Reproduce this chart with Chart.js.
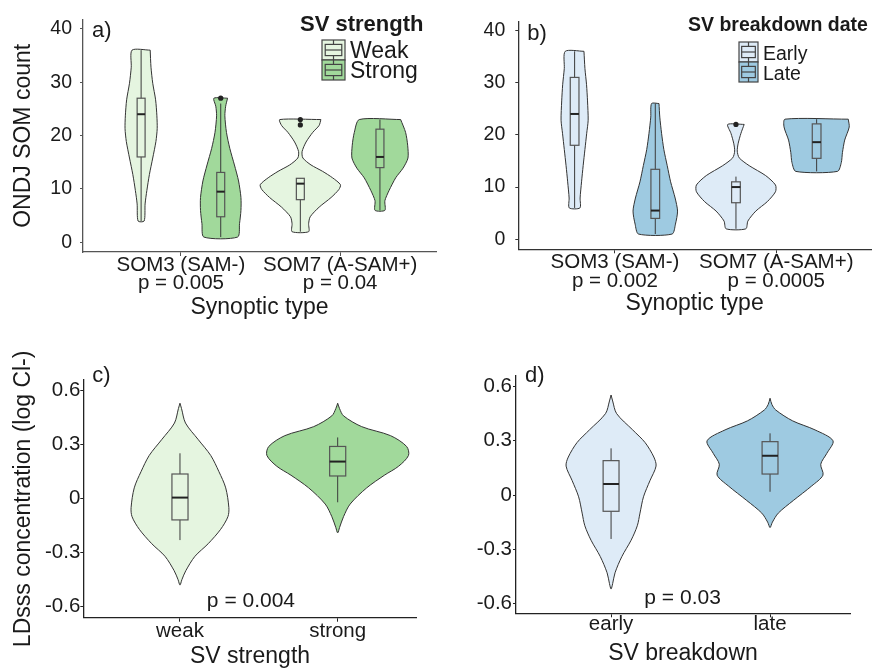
<!DOCTYPE html>
<html>
<head>
<meta charset="utf-8">
<script src="https://cdn.jsdelivr.net/npm/chart.js@4.4.1/dist/chart.umd.min.js"></script>
<style>
html, body { margin: 0; padding: 0; background: #fff; }
#wrap { position: relative; width: 875px; height: 668px; overflow: hidden; }
canvas { position: absolute; }
</style>
</head>
<body>
<div id="wrap">
  <canvas id="panelA" width="440" height="330" style="left:0;top:0"></canvas>
  <canvas id="panelB" width="435" height="330" style="left:440px;top:0"></canvas>
  <canvas id="panelC" width="440" height="338" style="left:0;top:330px"></canvas>
  <canvas id="panelD" width="435" height="338" style="left:440px;top:330px"></canvas>
</div>
<script>
// Violin + box plots of SOM counts (a, b) and LDsss concentration (c, d)

// ---- shared categories / ticks ----
const groupTicks = [1, 2];
const somNames = ['SOM3 (SAM-)', 'SOM7 (A-SAM+)'];
const pValuesA = ['p = 0.005', 'p = 0.04'];
const pValuesB = ['p = 0.002', 'p = 0.0005'];
const yTicksSom = [0, 10, 20, 30, 40];
const yTicksConc = [-0.6, -0.3, 0, 0.3, 0.6];
const yTickLabelsConc = ['-0.6', '-0.3', '0', '0.3', '0.6'];
const strengthNames = ['weak', 'strong'];
const breakdownNames = ['early', 'late'];

// violin positions on the x axis
const dodgedPos = [0.75, 1.25, 1.75, 2.25];
const singlePos = [1, 2];

// ---- panel a: SV strength ----
const aWeak3Y = [36, 32.8, 29.8, 26.7, 23.7, 21.3, 18.9, 15.8, 12.7, 9.7, 7.2, 4];
const aWeak3W = [0.057, 0.062, 0.073, 0.091, 0.099, 0.101, 0.093, 0.073, 0.052, 0.036, 0.025, 0.019];
const aStrong3Y = [27, 25.5, 23.7, 20.6, 17.6, 14.5, 11.5, 8.4, 6, 3.5, 1];
const aStrong3W = [0.043, 0.031, 0.026, 0.036, 0.057, 0.086, 0.112, 0.127, 0.127, 0.118, 0.106];
const aWeak7Y = [23, 21.9, 20.6, 18.8, 17, 15.8, 14.5, 13.3, 12.1, 10.8, 9.9, 8.4, 6.6, 4.8, 3.5, 2];
const aWeak7W = [0.129, 0.118, 0.078, 0.036, 0.011, 0.016, 0.067, 0.140, 0.202, 0.252, 0.242, 0.193, 0.118, 0.062, 0.052, 0.052];
const aStrong7Y = [23, 20.6, 18.2, 15.8, 13.9, 12.1, 9.7, 7.8, 6];
const aStrong7W = [0.130, 0.161, 0.174, 0.176, 0.145, 0.099, 0.057, 0.031, 0.031];
// box stats: lower whisker, q1, median, q3, upper whisker
const aBoxes = [[4, 16, 24, 27, 36], [1, 4.8, 9.5, 13.1, 26], [2, 8, 11, 12, 12], [6, 14, 16, 21.2, 23]];
const aOutliers = [{x: 1.25, y: 27}, {x: 1.75, y: 22}, {x: 1.75, y: 23}];

// ---- panel b: SV breakdown date ----
const bEarly3Y = [36, 32.7, 29.6, 26.5, 22.8, 20.3, 17.2, 14.1, 11, 7.9, 6];
const bEarly3W = [0.058, 0.064, 0.074, 0.080, 0.084, 0.075, 0.064, 0.053, 0.043, 0.034, 0.033];
const bLate3Y = [26, 23.4, 20.3, 17.2, 14.1, 11, 7.9, 5.4, 2.9, 1];
const bLate3W = [0.023, 0.028, 0.039, 0.053, 0.074, 0.095, 0.123, 0.138, 0.125, 0.104];
const bEarly7Y = [22, 20.3, 18.4, 16.9, 15.6, 14.1, 12.2, 10.4, 9.1, 7.2, 5.4, 3.5, 2];
const bEarly7W = [0.051, 0.031, 0.014, 0.008, 0.020, 0.082, 0.184, 0.245, 0.245, 0.194, 0.123, 0.074, 0.061];
const bLate7Y = [23, 21.5, 19, 16.6, 14.7, 13];
const bLate7W = [0.196, 0.202, 0.174, 0.160, 0.153, 0.129];
const bBoxes = [[6, 18, 24, 31, 36], [1, 4, 5.5, 13.4, 26], [2, 7, 10, 11, 12], [13, 15.5, 18.6, 22.1, 23]];
const bOutliers = [{x: 1.75, y: 22}];

// ---- panel c: LDsss vs SV strength ----
const cWeakY = [0.53, 0.50, 0.42, 0.33, 0.24, 0.15, 0.06, -0.05, -0.10, -0.17, -0.25, -0.32, -0.40, -0.45, -0.48];
const cWeakW = [0, 0.010, 0.035, 0.114, 0.195, 0.247, 0.290, 0.310, 0.304, 0.258, 0.179, 0.095, 0.037, 0.012, 0];
const cStrongY = [0.53, 0.50, 0.46, 0.40, 0.35, 0.29, 0.24, 0.18, 0.13, 0.06, -0.03, -0.10, -0.16, -0.19];
const cStrongW = [0, 0.012, 0.037, 0.152, 0.335, 0.437, 0.449, 0.386, 0.296, 0.184, 0.079, 0.037, 0.012, 0];
const cBoxes = [[-0.23, -0.118, 0.006, 0.137, 0.252], [-0.02, 0.126, 0.206, 0.29, 0.34]];

// ---- panel d: LDsss vs SV breakdown ----
const dEarlyY = [0.553, 0.52, 0.45, 0.36, 0.29, 0.21, 0.16, 0.08, -0.01, -0.10, -0.17, -0.25, -0.34, -0.43, -0.49, -0.52];
const dEarlyW = [0, 0.010, 0.035, 0.136, 0.214, 0.269, 0.283, 0.245, 0.204, 0.182, 0.165, 0.126, 0.068, 0.025, 0.010, 0];
const dLateY = [0.535, 0.50, 0.47, 0.41, 0.36, 0.30, 0.23, 0.17, 0.11, 0.05, -0.03, -0.10, -0.15, -0.18];
const dLateW = [0, 0.012, 0.036, 0.142, 0.283, 0.396, 0.357, 0.319, 0.333, 0.262, 0.147, 0.052, 0.015, 0];
const dBoxes = [[-0.243, -0.09, 0.061, 0.19, 0.258], [0.018, 0.116, 0.217, 0.295, 0.341]];

const pTextC = 'p = 0.004';
const pTextD = 'p = 0.03';
const pTextPos = {x: 1.45, y: -0.6};

// colours
const weakFill = '#e5f5e0';
const strongFill = '#a1d99b';
const earlyFill = '#deebf7';
const lateFill = '#9ecae1';
const textColor = '#1a1a1a';
const FONT = "'Liberation Sans', Arial, sans-serif";

Chart.defaults.font.family = FONT;
Chart.defaults.color = textColor;

// closed outline of a symmetric violin around cx
function violinPoints(cx, ys, ws) {
    const pts = ys.map((y, i) => ({x: cx + ws[i], y: y}));
    for (let i = ys.length - 1; i >= 0; i--) {
        if (ws[i] > 0) pts.push({x: cx - ws[i], y: ys[i]});
    }
    pts.push(pts[0]);
    return pts;
}

function violinDataset(cx, ys, ws, fill, tension) {
    return {
        data: violinPoints(cx, ys, ws),
        showLine: true,
        fill: 'shape',
        backgroundColor: fill,
        borderColor: '#333',
        borderWidth: 1,
        pointRadius: 0,
        pointHitRadius: 0,
        tension: tension
    };
}

// outliers drawn on top of the violins
function outlierDataset(points) {
    return {
        data: points,
        order: -1,
        pointRadius: 2.6,
        pointBackgroundColor: '#222',
        pointBorderWidth: 0,
        showLine: false
    };
}

function drawKey(ctx, x0, y0, w, h, fill) {
    ctx.fillStyle = fill;
    ctx.fillRect(x0, y0, w, h);
    ctx.strokeStyle = '#444';
    ctx.lineWidth = 1.2;
    ctx.strokeRect(x0, y0, w, h);
    ctx.beginPath();
    ctx.moveTo(x0 + w / 2, y0);
    ctx.lineTo(x0 + w / 2, y0 + h);
    ctx.stroke();
    const bx = x0 + w * 0.14, bw = w * 0.72, by = y0 + h * 0.22, bh = h * 0.56;
    ctx.fillRect(bx, by, bw, bh);
    ctx.strokeRect(bx, by, bw, bh);
    ctx.beginPath();
    ctx.moveTo(bx, y0 + h / 2);
    ctx.lineTo(bx + bw, y0 + h / 2);
    ctx.stroke();
}

// boxes, panel letter, legend and p-value text
const decorPlugin = {
    id: 'decor',
    afterDatasetsDraw(chart, args, opts) {
        const {ctx, chartArea} = chart;
        const xs = chart.scales.x, ys = chart.scales.y;
        ctx.save();
        (opts.boxes || []).forEach(b => {
            const cx = xs.getPixelForValue(b.pos);
            const hw = xs.getPixelForValue(b.pos + b.half) - cx;
            const [lo, q1, med, q3, hi] = b.stats.map(v => ys.getPixelForValue(v));
            ctx.strokeStyle = '#3a3a3a';
            ctx.lineWidth = 1;
            ctx.beginPath();
            ctx.moveTo(cx, lo);
            ctx.lineTo(cx, hi);
            ctx.stroke();
            ctx.fillStyle = b.fill;
            ctx.fillRect(cx - hw, q3, 2 * hw, q1 - q3);
            ctx.strokeStyle = '#555';
            ctx.lineWidth = 1.2;
            ctx.strokeRect(cx - hw, q3, 2 * hw, q1 - q3);
            ctx.strokeStyle = '#222';
            ctx.lineWidth = 2;
            ctx.beginPath();
            ctx.moveTo(cx - hw, med);
            ctx.lineTo(cx + hw, med);
            ctx.stroke();
        });

        ctx.fillStyle = textColor;
        ctx.textBaseline = 'alphabetic';
        ctx.textAlign = 'left';
        ctx.font = `22px ${FONT}`;
        ctx.fillText(opts.letter, chartArea.left + 9, chartArea.top + opts.letterDy);

        if (opts.legend) {
            const lg = opts.legend;
            ctx.font = `bold ${lg.titleSize}px ${FONT}`;
            ctx.fillText(lg.title, lg.x, lg.titleY);
            lg.items.forEach((it, i) => {
                const ky = lg.keyY + i * lg.keyH;
                drawKey(ctx, lg.keyX, ky, lg.keyW, lg.keyH, it.fill);
                ctx.fillStyle = textColor;
                ctx.font = `${lg.labelSize}px ${FONT}`;
                ctx.fillText(it.label, lg.keyX + lg.keyW + 5, ky + lg.keyH - 2);
            });
        }

        if (opts.pText) {
            ctx.font = `21px ${FONT}`;
            ctx.textAlign = 'center';
            ctx.fillText(opts.pText, xs.getPixelForValue(pTextPos.x), ys.getPixelForValue(pTextPos.y));
        }
        ctx.restore();
    }
};

function makePanel(id, cfg) {
    const axisColor = cfg.axisColor;
    return new Chart(document.getElementById(id), {
        type: 'scatter',
        data: {datasets: cfg.datasets},
        options: {
            responsive: false,
            animation: false,
            events: [],
            layout: {padding: cfg.padding},
            plugins: {
                legend: {display: false},
                tooltip: {enabled: false},
                decor: cfg.decor
            },
            scales: {
                x: {
                    type: 'linear',
                    min: cfg.xMin,
                    max: cfg.xMax,
                    afterFit: s => { s.height = cfg.xHeight; },
                    afterBuildTicks: s => { s.ticks = groupTicks.map(v => ({value: v})); },
                    ticks: {
                        callback: (v, i) => cfg.xLabels[i],
                        font: {size: 20.5, lineHeight: 0.9},
                        color: textColor,
                        padding: cfg.xTickPad,
                        maxRotation: 0,
                        autoSkip: false
                    },
                    grid: {drawOnChartArea: false, tickLength: 4, color: axisColor},
                    border: {color: axisColor, width: 1.3},
                    title: {
                        display: true,
                        text: cfg.xTitle,
                        font: {size: 23, lineHeight: 1},
                        color: textColor,
                        padding: {top: 0, bottom: cfg.xTitlePad}
                    }
                },
                y: {
                    min: cfg.yMin,
                    max: cfg.yMax,
                    afterFit: s => { s.width = cfg.yWidth; },
                    afterBuildTicks: s => { s.ticks = cfg.yTicks.map(v => ({value: v})); },
                    ticks: {
                        callback: (v, i) => cfg.yLabels[i],
                        font: {size: cfg.yTickSize},
                        color: textColor,
                        padding: cfg.yTickPad
                    },
                    grid: {drawOnChartArea: false, tickLength: 3, color: axisColor},
                    border: {color: axisColor, width: 1.3},
                    title: {
                        display: !!cfg.yTitle,
                        text: cfg.yTitle,
                        font: {size: 23, lineHeight: 1},
                        color: textColor,
                        padding: {top: 12, bottom: 0}
                    }
                }
            }
        },
        plugins: [decorPlugin]
    });
}

const somTickLabels = yTicksSom.map(String);

// panel a
makePanel('panelA', {
    datasets: [
        violinDataset(dodgedPos[0], aWeak3Y, aWeak3W, weakFill, 0.25),
        violinDataset(dodgedPos[1], aStrong3Y, aStrong3W, strongFill, 0.25),
        violinDataset(dodgedPos[2], aWeak7Y, aWeak7W, weakFill, 0.25),
        violinDataset(dodgedPos[3], aStrong7Y, aStrong7W, strongFill, 0.25),
        outlierDataset(aOutliers)
    ],
    padding: {top: 15, right: 0, left: 0, bottom: 0},
    xMin: 0.385, xMax: 2.602, xHeight: 78, xTickPad: 0, xTitlePad: 11,
    xLabels: somNames.map((n, i) => [n, pValuesA[i]]),
    xTitle: 'Synoptic type',
    yMin: -1.8, yMax: 41.7, yWidth: 83, yTickPad: 8, yTickSize: 19.5,
    yTicks: yTicksSom, yLabels: somTickLabels,
    yTitle: 'ONDJ SOM count',
    axisColor: '#555',
    decor: {
        letter: 'a)', letterDy: 17,
        boxes: aBoxes.map((s, i) => ({pos: dodgedPos[i], half: 0.025, stats: s, fill: i % 2 ? strongFill : weakFill})),
        legend: {
            title: 'SV strength', titleSize: 22, x: 300, titleY: 31,
            keyX: 322, keyY: 40, keyW: 23, keyH: 20, labelSize: 23,
            items: [{label: 'Weak', fill: weakFill}, {label: 'Strong', fill: strongFill}]
        }
    }
});

// panel b
makePanel('panelB', {
    datasets: [
        violinDataset(dodgedPos[0], bEarly3Y, bEarly3W, earlyFill, 0.25),
        violinDataset(dodgedPos[1], bLate3Y, bLate3W, lateFill, 0.25),
        violinDataset(dodgedPos[2], bEarly7Y, bEarly7W, earlyFill, 0.25),
        violinDataset(dodgedPos[3], bLate7Y, bLate7W, lateFill, 0.25),
        outlierDataset(bOutliers)
    ],
    padding: {top: 15, right: 0, left: 0, bottom: 0},
    xMin: 0.401, xMax: 2.587, xHeight: 80.7, xTickPad: 0, xTitlePad: 14.5,
    xLabels: somNames.map((n, i) => [n, pValuesB[i]]),
    xTitle: 'Synoptic type',
    yMin: -1.92, yMax: 41.67, yWidth: 78.3, yTickPad: 10, yTickSize: 19.5,
    yTicks: yTicksSom, yLabels: somTickLabels,
    yTitle: '',
    axisColor: '#333',
    decor: {
        letter: 'b)', letterDy: 18,
        boxes: bBoxes.map((s, i) => ({pos: dodgedPos[i], half: 0.027, stats: s, fill: i % 2 ? lateFill : earlyFill})),
        legend: {
            title: 'SV breakdown date', titleSize: 19.5, x: 248, titleY: 31,
            keyX: 299, keyY: 42, keyW: 19, keyH: 20, labelSize: 19.5,
            items: [{label: 'Early', fill: earlyFill}, {label: 'Late', fill: lateFill}]
        }
    }
});

// panel c
makePanel('panelC', {
    datasets: [
        violinDataset(singlePos[0], cWeakY, cWeakW, weakFill, 0.3),
        violinDataset(singlePos[1], cStrongY, cStrongW, strongFill, 0.3)
    ],
    padding: {top: 50, right: 23.3, left: 0, bottom: 0},
    xMin: 0.387, xMax: 2.501, xHeight: 50.3, xTickPad: 0, xTitlePad: 0,
    xLabels: strengthNames,
    xTitle: 'SV strength',
    yMin: -0.661, yMax: 0.659, yWidth: 83.3, yTickPad: 0, yTickSize: 20.5,
    yTicks: yTicksConc, yLabels: yTickLabelsConc,
    yTitle: 'LDsss concentration (log Cl-)',
    axisColor: '#222',
    decor: {
        letter: 'c)', letterDy: 2,
        boxes: cBoxes.map((s, i) => ({pos: singlePos[i], half: 0.051, stats: s, fill: i ? strongFill : weakFill})),
        pText: pTextC
    }
});

// panel d
makePanel('panelD', {
    datasets: [
        violinDataset(singlePos[0], dEarlyY, dEarlyW, earlyFill, 0.3),
        violinDataset(singlePos[1], dLateY, dLateW, lateFill, 0.3)
    ],
    padding: {top: 46, right: 25, left: 0, bottom: 0},
    xMin: 0.402, xMax: 2.503, xHeight: 54.7, xTickPad: -2, xTitlePad: 3,
    xLabels: breakdownNames,
    xTitle: 'SV breakdown',
    yMin: -0.654, yMax: 0.658, yWidth: 76, yTickPad: 1, yTickSize: 20.5,
    yTicks: yTicksConc, yLabels: yTickLabelsConc,
    yTitle: '',
    axisColor: '#222',
    decor: {
        letter: 'd)', letterDy: 6,
        boxes: dBoxes.map((s, i) => ({pos: singlePos[i], half: 0.05, stats: s, fill: i ? lateFill : earlyFill})),
        pText: pTextD
    }
});
</script>
</body>
</html>
